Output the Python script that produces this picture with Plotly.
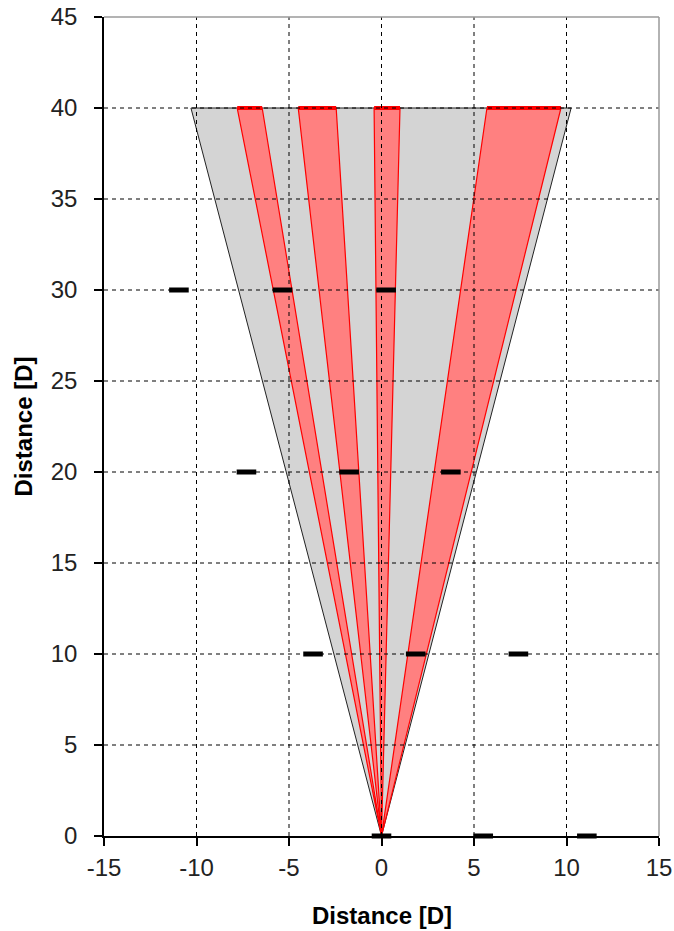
import plotly.graph_objects as go

# ---- data ----
apex_x, apex_y = 0.0, 0.0
top_y = 40.0
gray_left, gray_right = -10.3, 10.25
wedge_left = [-7.8, -4.5, -0.4, 5.7]
wedge_right = [-6.45, -2.45, 1.0, 9.7]

marker_x = [0.0, 5.5, 11.1, -3.7, 1.85, 7.4, -7.3, -1.75, 3.75, -10.95, -5.35, 0.25]
marker_y = [0, 0, 0, 10, 10, 10, 20, 20, 20, 30, 30, 30]

x_ticks = [-15, -10, -5, 0, 5, 10, 15]
x_tick_text = ["-15", "-10", "-5", "0", "5", "10", "15"]
y_ticks = [0, 5, 10, 15, 20, 25, 30, 35, 40, 45]
y_tick_text = ["0", "5", "10", "15", "20", "25", "30", "35", "40", "45"]

fig = go.Figure()

# gray fan
fig.add_trace(go.Scatter(
    x=[apex_x, gray_left, gray_right, apex_x],
    y=[apex_y, top_y, top_y, apex_y],
    mode="lines", fill="toself", fillcolor="#D4D4D4",
    line=dict(color="#222222", width=1), hoverinfo="skip", showlegend=False))

# red wedges
for l, r in zip(wedge_left, wedge_right):
    fig.add_trace(go.Scatter(
        x=[apex_x, l, r, apex_x], y=[apex_y, top_y, top_y, apex_y],
        mode="lines", fill="toself", fillcolor="#FF8080",
        line=dict(color="#FF0000", width=1.2), hoverinfo="skip", showlegend=False))
    fig.add_trace(go.Scatter(
        x=[l, r], y=[top_y, top_y], mode="lines",
        line=dict(color="#FF0000", width=4), hoverinfo="skip", showlegend=False))

# markers
fig.add_trace(go.Scatter(
    x=marker_x, y=marker_y, mode="markers",
    marker=dict(symbol="line-ew", size=14, color="black",
                line=dict(color="black", width=5)),
    showlegend=False, cliponaxis=False))

# dashed grid above the fills
shapes = []
for xv in x_ticks[1:-1]:
    shapes.append(dict(type="line", xref="x", yref="y", x0=xv, x1=xv, y0=y_ticks[0], y1=y_ticks[-1],
                       line=dict(color="black", width=1, dash="4px,4px"), layer="above"))
for yv in y_ticks[1:-1]:
    shapes.append(dict(type="line", xref="x", yref="y", x0=x_ticks[0], x1=x_ticks[-1], y0=yv, y1=yv,
                       line=dict(color="black", width=1, dash="4px,4px"), layer="above"))
# gray top/right border
shapes.append(dict(type="line", xref="paper", yref="paper", x0=0, x1=1, y0=1, y1=1,
                   line=dict(color="#9A9A9A", width=1.5), layer="above"))
shapes.append(dict(type="line", xref="paper", yref="paper", x0=1, x1=1, y0=0, y1=1,
                   line=dict(color="#9A9A9A", width=1.5), layer="above"))

font_family = "Liberation Sans, Arial, sans-serif"

fig.update_layout(
    width=674, height=931,
    margin=dict(l=104, r=15, t=17, b=95, autoexpand=False),
    paper_bgcolor="white", plot_bgcolor="white",
    shapes=shapes,
    font=dict(family=font_family, size=24, color="#222222"),
    xaxis=dict(range=[-15, 15], tickvals=x_ticks, ticktext=x_tick_text,
               showgrid=False, zeroline=False, automargin=False,
               showline=True, linecolor="black", linewidth=1.5,
               ticks="outside", ticklen=8, tickcolor="black", tickwidth=1.5,
               ticklabelstandoff=1, ticklabeloverflow="allow",
               tickfont=dict(size=24, color="#222222")),
    yaxis=dict(range=[0, 45], tickvals=y_ticks, ticktext=y_tick_text,
               showgrid=False, zeroline=False, automargin=False,
               showline=True, linecolor="black", linewidth=1.5,
               ticks="outside", ticklen=8, tickcolor="black", tickwidth=1.5,
               ticklabelstandoff=12, ticklabeloverflow="allow",
               tickfont=dict(size=24, color="#222222")),
    annotations=[
        dict(text="<b>Distance [D]</b>", xref="paper", yref="paper", x=0.5, y=-0.0965,
             xanchor="center", yanchor="middle", showarrow=False,
             font=dict(size=24, color="black", family=font_family)),
        dict(text="<b>Distance [D]</b>", xref="paper", yref="paper", x=(23 - 104) / 555, y=0.5,
             xanchor="center", yanchor="middle", showarrow=False, textangle=-90,
             font=dict(size=24, color="black", family=font_family)),
    ],
)

# remove the browser's default body margin so the figure fills the window exactly
fig.write_html("out.html", config={"displayModeBar": False},
               post_script="document.body.style.margin='0';document.body.style.overflow='hidden';")
